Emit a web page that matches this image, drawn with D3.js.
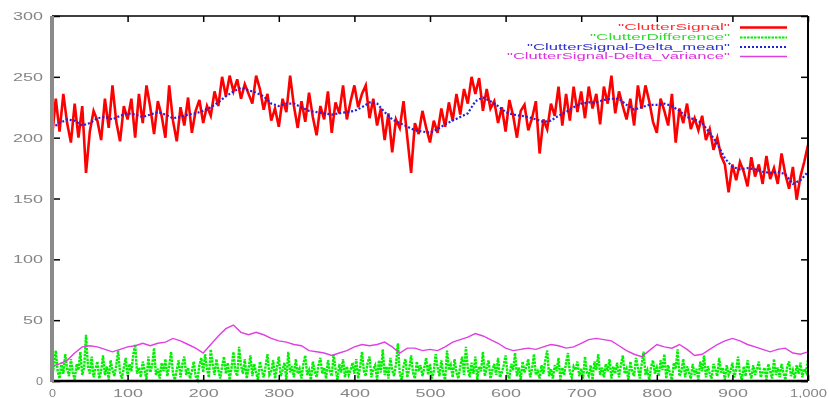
<!DOCTYPE html>
<html><head><meta charset="utf-8">
<script src="https://cdn.jsdelivr.net/npm/d3@7"></script>
<style>html,body{margin:0;padding:0;background:#fff;}svg{display:block;}</style>
</head><body>
<svg id="chart" width="829" height="398"></svg>
<script>
// ---- data ----
const signalX = d3.range(0, 1001, 5);
const clutterSignal = [
200,232,205,236,212,196,228,200,226,171,
205,222,214,198,232,208,243,213,197,226,
215,232,200,236,212,243,225,203,230,218,
200,243,214,197,225,210,233,204,222,231,
212,226,218,238,226,250,234,251,238,248,
232,244,236,228,251,240,223,236,214,224,
209,232,221,251,226,208,230,213,237,217,
202,226,215,238,204,229,220,243,215,230,
243,225,236,243,216,232,210,224,198,220,
188,215,208,230,200,171,212,203,222,208,
196,214,204,224,209,229,214,236,219,240,
228,250,236,249,222,240,224,230,212,225,
205,231,218,200,222,227,206,216,230,187,
215,207,228,218,242,210,236,214,242,221,
238,216,242,224,236,211,242,228,251,220,
238,226,215,232,210,243,224,243,230,213,
204,232,222,210,236,196,224,212,228,207,
216,206,218,198,207,190,200,185,178,155,
178,165,180,172,160,184,168,178,162,185,
166,175,162,187,170,158,176,149,168,180,
194];
const diffX = d3.range(0, 1000.1, 2.5);
const clutterDifference = [
3,12,25,8,2,15,6,22,10,4,18,7,1,14,9,24,5,11,38,12,
6,20,3,10,16,2,8,21,5,12,1,17,9,4,13,25,7,2,11,19,
4,14,8,22,30,6,11,3,16,9,1,20,7,13,27,5,10,2,15,8,
18,4,12,24,6,1,9,17,3,14,20,5,11,2,8,16,4,1,13,19,
7,22,10,3,26,14,5,18,9,2,12,20,6,15,1,11,24,8,4,28,
13,6,18,2,10,21,4,14,7,1,16,9,3,12,22,5,8,17,2,11,
20,4,9,15,1,24,7,12,3,18,6,10,2,14,21,5,9,1,16,8,
3,13,19,6,11,2,17,8,4,22,10,1,14,7,18,3,12,5,9,15,
6,18,2,11,24,8,4,15,20,3,10,13,1,17,7,26,5,12,2,19,
9,4,14,31,6,1,12,18,3,10,21,7,2,16,8,13,4,11,19,5,
14,2,8,22,11,4,17,6,1,25,9,13,3,18,7,2,12,20,5,28,
10,3,15,6,20,1,12,8,24,4,11,17,2,9,14,5,19,3,7,13,
21,6,2,14,9,23,4,11,1,16,7,12,18,3,10,22,5,8,2,13,
6,17,25,4,10,2,13,8,19,1,11,5,15,23,7,3,12,9,16,4,
10,2,20,7,4,13,1,16,9,22,5,11,3,14,8,18,2,12,6,15,
3,13,21,6,10,1,16,8,4,19,11,2,14,24,5,9,1,12,17,6,
11,4,17,9,22,2,13,6,1,15,10,26,4,8,18,3,12,7,2,14,
5,10,1,16,8,21,3,12,6,2,14,9,4,19,7,11,1,13,5,8,
15,3,9,20,6,1,12,4,17,8,2,13,5,10,16,3,7,11,1,14,
8,2,18,5,11,3,14,7,1,12,16,4,9,2,13,6,15,3,10,7,
18];
const statsX = d3.range(0, 1001, 10);
const deltaMean = [
208,212,215,214,210,212,216,217,215,218,
220,219,217,219,221,219,216,217,219,220,
222,225,229,234,238,241,239,237,234,228,
226,228,228,225,222,221,220,219,220,221,
222,225,229,228,221,215,212,209,206,205,
204,207,211,214,217,220,230,233,230,226,
221,219,218,217,215,213,214,218,221,225,
228,229,229,231,232,232,227,223,225,227,
227,228,226,222,217,215,212,204,195,183,
176,174,175,174,172,171,172,170,162,165,
172];
const deltaVariance = [
12,14,17,23,28,29,28,26,24,26,
28,29,31,29,31,32,35,33,30,27,
23,30,37,43,46,40,38,40,38,35,
33,32,30,29,25,24,23,21,23,25,
28,30,29,30,32,28,23,27,27,25,
26,25,28,32,34,36,39,37,34,31,
27,25,26,27,26,28,30,29,27,28,
31,34,35,34,33,29,25,22,20,25,
30,28,27,30,26,21,22,26,30,33,
35,33,30,28,26,24,26,27,23,22,
24];
const xTicks = [0,100,200,300,400,500,600,700,800,900,1000];
const yTicks = [0,50,100,150,200,250,300];
const seriesNames = ['"ClutterSignal"','"ClutterDifference"','"ClutterSignal-Delta_mean"','"ClutterSignal-Delta_variance"'];

// ---- drawing ----
const svg = d3.select("#chart");
const defs = svg.append("defs");
defs.append("filter").attr("id","soft").attr("x","-5%").attr("y","-5%").attr("width","110%").attr("height","110%")
  .append("feGaussianBlur").attr("stdDeviation",0.6);

const L = 52, R = 808, T = 16, B = 381;
const x = d3.scaleLinear().domain([0,1000]).range([L,R]);
const y = d3.scaleLinear().domain([0,300]).range([B,T]);

const g = svg.append("g").attr("filter","url(#soft)");

const line = (xs, vs) => d3.line().x((d,i)=>x(xs[i])).y(d=>y(d))(vs);

const series = [
  {xs: signalX, v: clutterSignal, color:"#ff0000", w:2.6, dash:null},
  {xs: diffX, v: clutterDifference, color:"#00f000", w:2.4, dash:"2.5,1"},
  {xs: statsX, v: deltaMean, color:"#2222dd", w:2.2, dash:"2,2"},
  {xs: statsX, v: deltaVariance, color:"#e040e0", w:1.4, dash:null}
];
const plot = g.append("g");
series.forEach(s=>{
  plot.append("path").attr("d", line(s.xs, s.v)).attr("fill","none")
    .attr("stroke", s.color).attr("stroke-width", s.w)
    .attr("stroke-dasharray", s.dash).attr("stroke-linejoin","miter");
});

function labelLen(t){ const n=t.length; return n===1?7:(n===2?20:(n===3?30:37)); }
function styleAxis(sel){
  sel.select(".domain").remove();
  sel.selectAll("line").attr("stroke","#000").attr("stroke-width",1.5);
  sel.selectAll("text").attr("fill","#858585").attr("font-size","11px")
    .attr("font-family","Liberation Sans, Arial, sans-serif")
    .each(function(){ const t=d3.select(this).text(); if(t) d3.select(this).attr("textLength",labelLen(t)).attr("lengthAdjust","spacingAndGlyphs"); });
}
const ax = g.append("g");
ax.append("g").attr("transform",`translate(${L},0)`)
  .call(d3.axisLeft(y).tickValues(yTicks).tickSize(-8).tickPadding(9))
  .call(styleAxis);
ax.append("g").attr("transform",`translate(0,${B})`)
  .call(d3.axisBottom(x).tickValues(xTicks).tickSize(-6).tickPadding(8))
  .call(styleAxis);
ax.append("g").attr("transform",`translate(0,${T})`)
  .call(d3.axisTop(x).tickValues(xTicks).tickSize(-6).tickFormat(""))
  .call(styleAxis);
ax.append("g").attr("transform",`translate(${R},0)`)
  .call(d3.axisRight(y).tickValues(yTicks).tickSize(-7).tickFormat(""))
  .call(styleAxis);

// frame
ax.append("line").attr("x1",L).attr("x2",R).attr("y1",T).attr("y2",T).attr("stroke","#000").attr("stroke-width",1.5);
ax.append("line").attr("x1",R).attr("x2",R).attr("y1",T).attr("y2",B).attr("stroke","#000").attr("stroke-width",2);
ax.append("line").attr("x1",L).attr("x2",R).attr("y1",B).attr("y2",B).attr("stroke","#000").attr("stroke-width",2.5);
ax.append("line").attr("x1",L).attr("x2",L).attr("y1",T).attr("y2",B+1).attr("stroke","#8a8a8a").attr("stroke-width",4);

// legend
const legY = [27.5, 37.5, 47, 56.5];
const legW = [112, 140, 203, 223];
const legText = ["#ff3030","#30dd30","#3030cc","#dd30dd"];
const leg = g.append("g");
seriesNames.forEach((name,i)=>{
  leg.append("text").attr("x",730).attr("y",legY[i]).attr("dy","0.35em")
    .attr("text-anchor","end").attr("font-size","8.5px")
    .attr("font-family","Liberation Sans, Arial, sans-serif")
    .attr("fill",legText[i]).attr("textLength",legW[i]).attr("lengthAdjust","spacingAndGlyphs")
    .text(name);
  leg.append("line").attr("x1",740).attr("x2",787).attr("y1",legY[i]).attr("y2",legY[i])
    .attr("stroke",series[i].color).attr("stroke-width",i===0?2.4:(i===3?1.4:2))
    .attr("stroke-dasharray",series[i].dash);
});
</script>
</body></html>
